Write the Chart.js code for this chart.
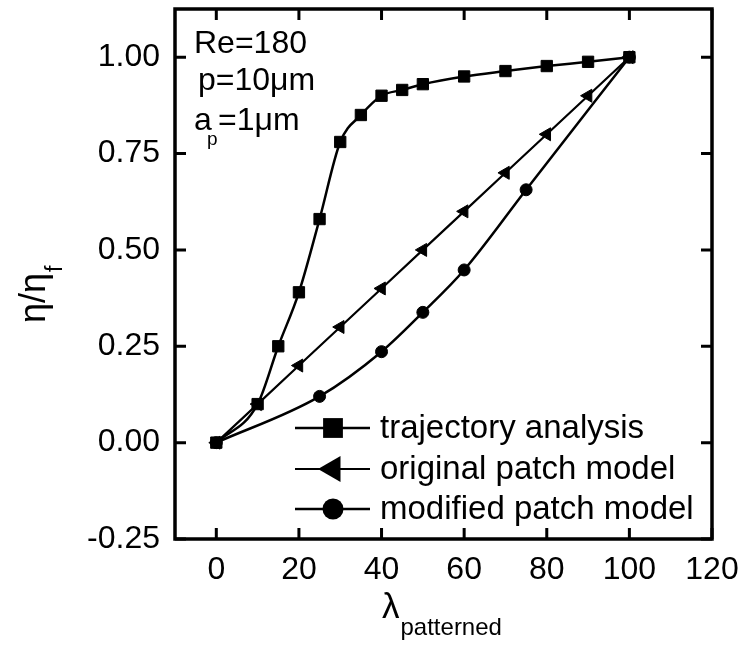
<!DOCTYPE html>
<html><head><meta charset="utf-8">
<script src="https://cdn.jsdelivr.net/npm/chart.js@4.4.1/dist/chart.umd.min.js"></script>
<style>html,body{margin:0;padding:0;background:#fff}#wrap{width:745px;height:645px}</style>
</head><body><div id="wrap"><canvas id="c" width="745" height="645"></canvas></div>
<script>
// ---- data ----
const trajX = [0, 10, 15, 20, 25, 30, 35, 40, 45, 50, 60, 70, 80, 90, 100];
const trajY = [0, 0.10, 0.25, 0.39, 0.58, 0.78, 0.85, 0.90, 0.915, 0.93, 0.95, 0.964, 0.977, 0.988, 1.0];
const origX = [0, 10, 20, 30, 40, 50, 60, 70, 80, 90, 100];
const origY = [0, 0.10, 0.20, 0.30, 0.40, 0.50, 0.60, 0.70, 0.80, 0.90, 1.00];
const modX = [0, 25, 40, 50, 60, 75, 100];
const modY = [0, 0.12, 0.236, 0.338, 0.448, 0.656, 1.00];
const seriesNames = ['trajectory analysis', 'original patch model', 'modified patch model'];
const xTickLabels = [0, 20, 40, 60, 80, 100, 120];
const yTickLabels = [-0.25, 0.00, 0.25, 0.50, 0.75, 1.00];
const noteLines = ['Re=180', 'p=10μm', 'a', 'p', '=1μm'];
const xTitleMain = 'λ', xTitleSub = 'patterned';
const yTitleMain = 'η/η', yTitleSub = 'f';

const FONT = '"Liberation Sans", Arial, sans-serif';
const toPts = (xs, ys) => xs.map((x, i) => ({x, y: ys[i]}));

const legendStyle = [
  {style: 'rect', r: 14, rot: 0},
  {style: 'triangle', r: 15, rot: -90},
  {style: 'circle', r: 10.5, rot: 0}
];

function marker(ctx, style, x, y, r, rot) {
  ctx.beginPath();
  if (style === 'rect') {
    const s = r * Math.SQRT1_2;
    ctx.rect(x - s, y - s, 2 * s, 2 * s);
  } else if (style === 'circle') {
    ctx.arc(x, y, r, 0, Math.PI * 2);
  } else {
    let rad = rot * Math.PI / 180;
    for (let k = 0; k < 3; k++) {
      const px = x + Math.sin(rad) * r, py = y - Math.cos(rad) * r;
      k ? ctx.lineTo(px, py) : ctx.moveTo(px, py);
      rad += 2 * Math.PI / 3;
    }
    ctx.closePath();
  }
  ctx.fill();
}

const deco = {
  id: 'deco',
  afterDraw(chart) {
    const ctx = chart.ctx, a = chart.chartArea;
    const xs = chart.scales.x, ys = chart.scales.y;
    ctx.save();
    ctx.strokeStyle = '#000'; ctx.fillStyle = '#000';
    ctx.lineWidth = 3.5;
    ctx.strokeRect(a.left, a.top, a.right - a.left, a.bottom - a.top);
    ctx.lineWidth = 3;
    xs.ticks.forEach(t => {
      const px = xs.getPixelForValue(t.value);
      const major = xTickLabels.includes(t.value);
      const L = major ? 11 : 7;
      ctx.beginPath();
      ctx.moveTo(px, a.bottom); ctx.lineTo(px, a.bottom - L);
      ctx.moveTo(px, a.top); ctx.lineTo(px, a.top + L);
      ctx.stroke();
    });
    ys.ticks.forEach(t => {
      const py = ys.getPixelForValue(t.value);
      const major = yTickLabels.some(v => Math.abs(v - t.value) < 1e-6);
      const L = major ? 11 : 7;
      ctx.beginPath();
      ctx.moveTo(a.left, py); ctx.lineTo(a.left + L, py);
      ctx.moveTo(a.right, py); ctx.lineTo(a.right - L, py);
      ctx.stroke();
    });

    // legend
    const rows = [428, 469, 509];
    chart.data.datasets.forEach((ds, i) => {
      const y = rows[i];
      ctx.lineWidth = ds.borderWidth;
      ctx.beginPath(); ctx.moveTo(295, y); ctx.lineTo(370, y); ctx.stroke();
      const ls = legendStyle[i];
      marker(ctx, ls.style, 333, y, ls.r, ls.rot);
      ctx.font = '33px ' + FONT;
      ctx.textBaseline = 'middle'; ctx.textAlign = 'left';
      ctx.fillText(ds.label, 380, y + 1);
    });

    // notes
    ctx.textBaseline = 'alphabetic';
    ctx.font = '32px ' + FONT;
    ctx.fillText(noteLines[0], 194, 53);
    ctx.fillText(noteLines[1], 198, 90);
    ctx.fillText(noteLines[2], 194, 130);
    ctx.font = '19px ' + FONT;
    ctx.fillText(noteLines[3], 207, 145);
    ctx.font = '32px ' + FONT;
    ctx.fillText(noteLines[4], 218, 130);

    // x title
    ctx.font = '35px ' + FONT;
    ctx.fillText(xTitleMain, 382, 618);
    const lw = ctx.measureText(xTitleMain).width;
    ctx.font = '24px ' + FONT;
    ctx.fillText(xTitleSub, 382 + lw + 1, 635);

    // y title
    ctx.translate(45, 323);
    ctx.rotate(-Math.PI / 2);
    ctx.font = '36px ' + FONT;
    ctx.fillText(yTitleMain, 0, 0);
    const yw = ctx.measureText(yTitleMain).width;
    ctx.font = '23px ' + FONT;
    ctx.fillText(yTitleSub, yw + 1, 17);
    ctx.restore();
  }
};

new Chart(document.getElementById('c'), {
  type: 'line',
  data: {
    datasets: [
      {label: seriesNames[0], data: toPts(trajX, trajY), borderColor: '#000', backgroundColor: '#000',
       borderWidth: 2.5, pointStyle: 'rect', pointRadius: 8, pointBorderWidth: 1,
       cubicInterpolationMode: 'monotone', tension: 0.4},
      {label: seriesNames[1], data: toPts(origX, origY), borderColor: '#000', backgroundColor: '#000',
       borderWidth: 2.2, pointStyle: 'triangle', pointRotation: -90, pointRadius: 7.5, pointBorderWidth: 1,
       tension: 0},
      {label: seriesNames[2], data: toPts(modX, modY), borderColor: '#000', backgroundColor: '#000',
       borderWidth: 2.5, pointStyle: 'circle', pointRadius: 6, pointBorderWidth: 1,
       cubicInterpolationMode: 'monotone', tension: 0.4}
    ]
  },
  options: {
    responsive: false, animation: false, devicePixelRatio: 1,
    layout: {padding: {top: 7, right: 33, left: 0, bottom: 0}},
    plugins: {legend: {display: false}, tooltip: {enabled: false}},
    scales: {
      x: {
        type: 'linear', min: -10, max: 120,
        grid: {display: false, drawTicks: false}, border: {display: false},
        ticks: {stepSize: 10, autoSkip: false, maxRotation: 0, padding: 12, color: '#000',
          font: {family: FONT, size: 32},
          callback: v => xTickLabels.includes(v) ? String(v) : null},
        afterFit: s => { s.height = 106; s.paddingLeft = 0; s.paddingRight = 0; }
      },
      y: {
        type: 'linear', min: -0.25, max: 1.125,
        grid: {display: false, drawTicks: false}, border: {display: false},
        ticks: {stepSize: 0.125, autoSkip: false, padding: 15, color: '#000',
          font: {family: FONT, size: 32},
          callback: v => yTickLabels.some(t => Math.abs(t - v) < 1e-6) ? v.toFixed(2) : null},
        afterFit: s => { s.width = 175; s.paddingTop = 0; s.paddingBottom = 0; }
      }
    }
  },
  plugins: [deco]
});
</script></body></html>
